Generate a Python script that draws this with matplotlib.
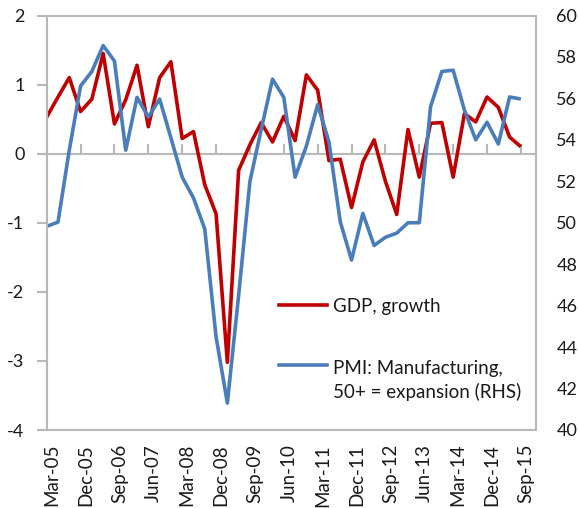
import matplotlib
matplotlib.use("Agg")
import matplotlib.pyplot as plt
from matplotlib.lines import Line2D
from matplotlib.patches import Rectangle
from matplotlib.transforms import ScaledTranslation
import numpy as np

plt.rcParams['font.family'] = ['Lato', 'DejaVu Sans']

quarters = ["Mar-05", "Jun-05", "Sep-05", "Dec-05", "Mar-06", "Jun-06", "Sep-06", "Dec-06",
            "Mar-07", "Jun-07", "Sep-07", "Dec-07", "Mar-08", "Jun-08", "Sep-08", "Dec-08",
            "Mar-09", "Jun-09", "Sep-09", "Dec-09", "Mar-10", "Jun-10", "Sep-10", "Dec-10",
            "Mar-11", "Jun-11", "Sep-11", "Dec-11", "Mar-12", "Jun-12", "Sep-12", "Dec-12",
            "Mar-13", "Jun-13", "Sep-13", "Dec-13", "Mar-14", "Jun-14", "Sep-14", "Dec-14",
            "Mar-15", "Jun-15", "Sep-15"]

gdp_growth = [0.53, 0.82, 1.10, 0.61, 0.79, 1.45, 0.43, 0.78, 1.28, 0.39, 1.10, 1.33,
              0.22, 0.32, -0.45, -0.87, -3.02, -0.24, 0.13, 0.45, 0.17, 0.54, 0.19, 1.14,
              0.92, -0.10, -0.08, -0.78, -0.12, 0.20, -0.40, -0.88, 0.35, -0.34, 0.44, 0.45,
              -0.34, 0.58, 0.46, 0.82, 0.67, 0.24, 0.10]

pmi_manufacturing = [49.83, 50.03, 53.5, 56.6, 57.3, 58.55, 57.8, 53.5, 56.05, 55.1, 55.97, 54.1,
                     52.2, 51.2, 49.7, 44.5, 41.3, 46.5, 52.0, 54.5, 56.93, 56.05, 52.2, 53.7,
                     55.7, 53.9, 50.05, 48.2, 50.45, 48.9, 49.3, 49.5, 50.0, 50.0, 55.6, 57.3,
                     57.36, 55.43, 54.0, 54.85, 53.8, 56.07, 55.97]

label_every = 3
left_ticks = [-4, -3, -2, -1, 0, 1, 2]
right_ticks = [40, 42, 44, 46, 48, 50, 52, 54, 56, 58, 60]

gdp_label = "GDP, growth"
pmi_label_lines = ["PMI: Manufacturing,", "50+ = expansion (RHS)"]

RED = "#C00000"
BLUE = "#4A7EBB"
GRAY = "#B8B8B8"
TXT = "#1a1a1a"
FS = 13

fig = plt.figure(figsize=(5.78, 5.08), dpi=100)
ax = fig.add_axes([46.7 / 578, 1 - 430 / 508, (535.5 - 46.7) / 578, (430 - 15.5) / 508])
ax2 = ax.twinx()

x = np.arange(len(quarters))
ax.plot(x, gdp_growth, color=RED, lw=2.6, solid_capstyle='butt', zorder=3)
ax2.plot(x, pmi_manufacturing, color=BLUE, lw=2.6, solid_capstyle='butt')

step = (535.5 - 520.9) / ((520.9 - 46.7) / (len(quarters) - 1))
ax.set_xlim(0, len(quarters) - 1 + step)
ymin, ymax = -4, 2
ax.set_ylim(ymin, ymax)
ax2.set_ylim(40, 60)

# frame (plot-area border)
for s in ax.spines.values():
    s.set_visible(False)
for s in ax2.spines.values():
    s.set_visible(False)
ax2.add_patch(Rectangle((0, 0), 1, 1, transform=ax2.transAxes, fill=False,
                        edgecolor=GRAY, lw=1.5, clip_on=False, zorder=5))

# category labels at the bottom
xt = x[::label_every]
ax.set_xticks(xt)
ax.set_xticklabels([quarters[i] for i in xt], rotation=90, fontsize=13.5, color=TXT)
ax.tick_params(axis='x', length=0, pad=10)
offset = ScaledTranslation(5 / 100, 0, fig.dpi_scale_trans)
for lbl in ax.get_xticklabels():
    lbl.set_transform(lbl.get_transform() + offset)

# horizontal axis line at zero with upward tick marks
zero_loc = (0 - ymin) / (ymax - ymin)
sec = ax.secondary_xaxis(zero_loc)
sec.set_xticks(xt)
sec.tick_params(axis='x', direction='out', length=7, width=1.5, color=GRAY,
                labeltop=False, labelbottom=False)
for s in sec.spines.values():
    s.set_color(GRAY)
    s.set_linewidth(1.5)

ax.set_yticks(left_ticks)
ax.set_yticklabels([str(v) for v in left_ticks])
ax.tick_params(axis='y', direction='out', length=7, width=1.5, color=GRAY, pad=9, labelsize=FS,
               labelcolor=TXT)
ax2.set_yticks(right_ticks)
ax2.tick_params(axis='y', length=0, pad=15, labelsize=FS, labelcolor=TXT)

# legend (manual, matching Excel layout)
ax2.add_line(Line2D([0.475, 0.573], [0.3016, 0.3016], transform=ax2.transAxes, color=RED, lw=2.6))
ax2.add_line(Line2D([0.475, 0.573], [0.1568, 0.1568], transform=ax2.transAxes, color=BLUE, lw=2.6))
LFS = 13.5
ax2.text(0.585, 0.2854, gdp_label, transform=ax2.transAxes, fontsize=LFS, color=TXT, va='baseline')
ax2.text(0.585, 0.1344, pmi_label_lines[0], transform=ax2.transAxes, fontsize=LFS, color=TXT, va='baseline')
ax2.text(0.585, 0.0765, pmi_label_lines[1], transform=ax2.transAxes, fontsize=LFS, color=TXT, va='baseline')

fig.savefig("out.png", dpi=100)
